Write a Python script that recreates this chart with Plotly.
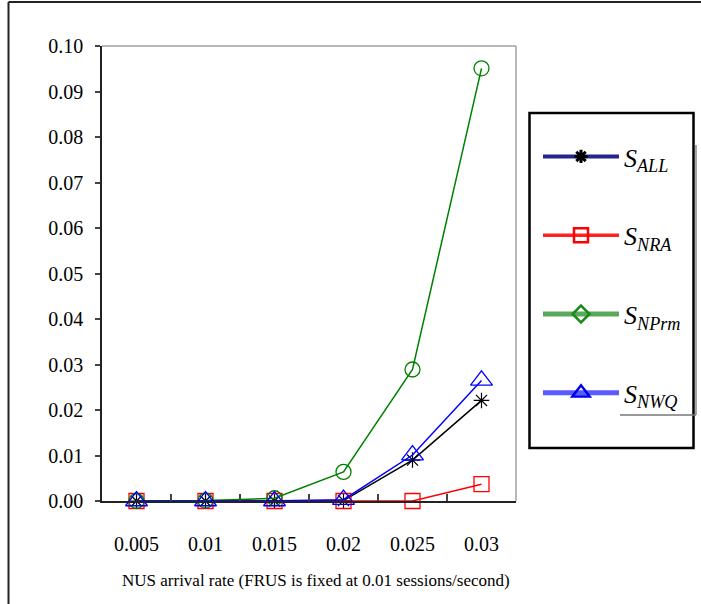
import plotly.graph_objects as go

# Session blocking probability vs. NUS arrival rate
categories = ["0.005", "0.01", "0.015", "0.02", "0.025", "0.03"]
s_all = [0.0, 0.0, 0.0, 0.0001, 0.0090, 0.0221]
s_nra = [0.0, 0.0, 0.0, 0.0, 0.0, 0.0037]
s_nprm = [0.0, 0.0001, 0.0006, 0.0064, 0.0289, 0.0951]
s_nwq = [0.0, 0.0, 0.0, 0.0003, 0.0101, 0.0265]

y_ticks = [i / 100 for i in range(11)]
x_title = "NUS arrival rate (FRUS is fixed at 0.01 sessions/second)"

W, H = 701, 604
# plot area in pixels
PL, PR, PT, PB = 102, 516, 46, 501
# legend box in pixels
LL, LR, LT, LB = 529.5, 693.5, 113, 448

SERIF = "Liberation Serif, Times New Roman, serif"


def px(x):
    return x / W


def py(y):
    return 1 - y / H


n_cat = len(categories)
x_pos = list(range(n_cat))          # evenly spaced category slots

fig = go.Figure()

series = [
    ("ALL", s_all, "black", "asterisk-open", 13, 1.2),
    ("NRA", s_nra, "#ff0000", "square-open", 15, 1.3),
    ("NPrm", s_nprm, "#008000", "circle-open", 15, 1.3),
    ("NWQ", s_nwq, "#0000ff", "triangle-up-open", 19, 1.3),
]
for sub, vals, col, sym, sz, mw in series:
    fig.add_trace(go.Scatter(
        x=x_pos, y=vals, mode="lines+markers", name=f"S_{sub}",
        line=dict(color=col, width=1.5),
        marker=dict(symbol=sym, size=sz, color=col, line=dict(color=col, width=mw)),
        cliponaxis=False, showlegend=False,
    ))

# legend-only entries with the heavier legend styling
legend_rows = [
    ("ALL", "#24248c", 4, "black", "asterisk-open", 11, 3),
    ("NRA", "#ff2222", 3.5, "#ff0000", "square-open", 14, 2.5),
    ("NPrm", "#5aa85a", 5, "#1a8a1a", "diamond-open", 13, 2.5),
    ("NWQ", "#5a5aff", 5, "#0000ee", "triangle-up-open", 15, 2.5),
]
for sub, lcol, lw, mcol, sym, sz, mw in legend_rows:
    fig.add_trace(go.Scatter(
        x=[None], y=[None], mode="lines+markers",
        name=f"<i>S<sub>{sub}</sub></i>", legendgroup=sub,
        line=dict(color=lcol, width=lw),
        marker=dict(symbol=sym, size=sz, color=mcol, line=dict(color=mcol, width=mw)),
        showlegend=True, hoverinfo="skip",
    ))


def seg(x0, y0, x1, y1, color, width):
    return dict(type="line", xref="paper", yref="paper",
                x0=px(x0), y0=py(y0), x1=px(x1), y1=py(y1),
                line=dict(color=color, width=width))


shapes = [
    # outer frame (left and top edges)
    seg(8.5, 2, 8.5, H + 5, "#222", 2),
    seg(8.5, 2, W + 5, 2, "#222", 2),
    # plot frame top and right edges
    seg(PL, PT, PR, PT, "#a0a0a0", 1.5),
    seg(PR, PT, PR, PB, "#a0a0a0", 1.5),
    # legend box and its offset edge
    dict(type="rect", xref="paper", yref="paper",
         x0=px(LL), x1=px(LR), y0=py(LB), y1=py(LT),
         line=dict(color="black", width=2.5)),
    seg(696, 145, 696, 415, "#888", 1.5),
    seg(620, 415, 696, 415, "#777", 1.5),
]
fig.update_layout(shapes=shapes)

fig.add_annotation(
    x=px(316), y=py(580), xref="paper", yref="paper",
    xanchor="center", yanchor="middle",
    text=x_title, showarrow=False, font=dict(family=SERIF, size=17, color="black"),
)

fig.update_layout(
    width=W, height=H,
    margin=dict(l=0, r=0, t=0, b=0, pad=0),
    paper_bgcolor="white", plot_bgcolor="rgba(0,0,0,0)",
    showlegend=True,
    legend=dict(
        x=px(538), y=py(133), xanchor="left", yanchor="top",
        bgcolor="rgba(0,0,0,0)", borderwidth=0,
        itemwidth=76, tracegroupgap=42, traceorder="grouped",
        font=dict(family=SERIF, size=26, color="black"),
        itemclick=False, itemdoubleclick=False,
    ),
    xaxis=dict(
        domain=[px(PL), px(PR)], range=[-0.5, n_cat - 0.5],
        tickmode="array", tickvals=x_pos, ticktext=categories,
        showline=True, linecolor="#222", linewidth=1.5,
        # invisible long major ticks set the label offset; minor ticks mark slot edges
        ticks="outside", ticklen=24, tickcolor="rgba(0,0,0,0)",
        minor=dict(tickmode="array", tickvals=[i + 0.5 for i in range(n_cat - 1)],
                   ticks="inside", ticklen=7, tickcolor="#444", tickwidth=2,
                   showgrid=False),
        showgrid=False, zeroline=False,
        tickfont=dict(family=SERIF, size=20, color="black"),
        automargin=False,
    ),
    yaxis=dict(
        domain=[py(PB), py(PT)], range=[0, 0.1],
        tickmode="array", tickvals=y_ticks, ticktext=[f"{v:.2f}" for v in y_ticks],
        showline=True, linecolor="#222", linewidth=1.5,
        ticks="outside", ticklen=13, tickcolor="rgba(0,0,0,0)",
        minor=dict(tickmode="array", tickvals=y_ticks, ticks="outside", ticklen=5,
                   tickcolor="#444", tickwidth=2, showgrid=False),
        showgrid=False, zeroline=False,
        tickfont=dict(family=SERIF, size=20, color="black"),
        automargin=False,
    ),
)

fig.write_html("out.html")
